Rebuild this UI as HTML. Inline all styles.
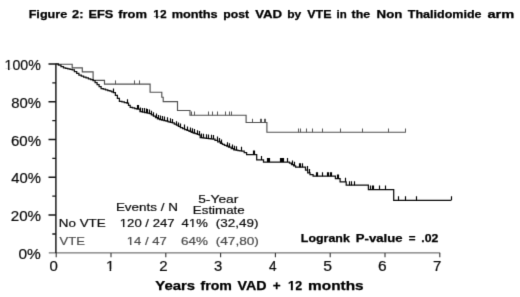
<!DOCTYPE html>
<html><head><meta charset="utf-8"><title>Figure 2</title>
<style>
html,body{margin:0;padding:0;background:#fff;}
body{width:520px;height:297px;overflow:hidden;}
svg{display:block;font-family:"Liberation Sans",Arial,sans-serif;}
</style></head><body>
<svg width="520" height="297" viewBox="0 0 520 297">
<defs><clipPath id="c4"><path clip-rule="evenodd" d="M0,0H520V297H0ZM153.10,16.91H155.97V19.95H153.10ZM157.90,16.91H160.62V19.95H157.90Z"/></clipPath><clipPath id="c15"><path clip-rule="evenodd" d="M0,0H520V297H0ZM4.69,68.52H8.02V71.50H4.69ZM9.56,68.52H12.78V71.50H9.56Z"/></clipPath><clipPath id="c22"><path clip-rule="evenodd" d="M0,0H520V297H0ZM106.10,269.02H109.60V272.00H106.10ZM111.23,269.02H114.61V272.00H111.23Z"/></clipPath><clipPath id="c33"><path clip-rule="evenodd" d="M0,0H520V297H0ZM287.77,287.76H290.81V291.00H287.77ZM292.88,287.76H295.76V291.00H292.88Z"/></clipPath><clipPath id="c40"><path clip-rule="evenodd" d="M0,0H520V297H0ZM119.81,225.68H122.96V228.50H119.81ZM124.42,225.68H127.47V228.50H124.42Z"/></clipPath><clipPath id="c41"><path clip-rule="evenodd" d="M0,0H520V297H0ZM188.90,225.68H192.03V228.50H188.90ZM193.49,225.68H196.52V228.50H193.49Z"/></clipPath><clipPath id="c44"><path clip-rule="evenodd" d="M0,0H520V297H0ZM126.84,244.08H129.98V246.90H126.84ZM131.44,244.08H134.48V246.90H131.44Z"/></clipPath><filter id="soft" x="0" y="0" width="100%" height="100%" color-interpolation-filters="sRGB"><feConvolveMatrix order="3" kernelMatrix="0 1 0 1 6 1 0 1 0" divisor="10" edgeMode="duplicate" preserveAlpha="true"/></filter></defs>
<g filter="url(#soft)">
<rect width="520" height="297" fill="#fff"/>
<path d="M48.8,252.9H440.2" stroke="#555" stroke-width="1" fill="none"/>
<path d="M56.2,252.9v4.4M111.0,252.9v4.4M165.8,252.9v4.4M220.6,252.9v4.4M275.4,252.9v4.4M330.2,252.9v4.4M385.0,252.9v4.4M439.8,252.9v4.4" stroke="#333" stroke-width="1.1" fill="none"/>
<path d="M55.9,63.4V252.9" stroke="#151515" stroke-width="1.45" fill="none"/>
<path d="M48.5,63.9H55.9M48.5,101.7H55.9M48.5,139.5H55.9M48.5,177.3H55.9M48.5,215.1H55.9" stroke="#151515" stroke-width="1.5" fill="none"/>
<path d="M52.3,82.8H55.9M52.3,120.6H55.9M52.3,158.4H55.9M52.3,196.2H55.9M52.3,234.0H55.9" stroke="#151515" stroke-width="1.3" fill="none"/>
<path d="M55.9,64.2 L72.2,64.2 L72.2,67.8 L82.3,67.8 L82.3,71.8 L93.1,71.8 L93.1,80.3 L104.5,80.3 L104.5,84.1 L150.1,84.1 L150.1,92.2 L161.8,92.2 L161.8,97.2 L163.2,97.2 L163.2,101.6 L177.5,101.6 L177.5,110.5 L190.0,110.5 L190.0,115.2 L246.1,115.2 L246.1,122.5 L266.9,122.5 L266.9,132.2 L405.8,132.2 L405.8,132.2" stroke="#505050" stroke-width="1.15" fill="none" stroke-linejoin="miter"/>
<path d="M115.5,84.1v-3.7M134.5,84.1v-3.7M139.5,84.1v-3.7M191.5,115.2v-3.7M194.5,115.2v-3.7M208.5,115.2v-3.7M212.5,115.2v-3.7M217.5,115.2v-3.7M225.5,115.2v-3.7M229.5,115.2v-3.7M231.5,115.2v-3.7M252.5,122.5v-3.7M260.5,122.5v-3.7M261.5,122.5v-3.7M264.5,122.5v-3.7M265.5,122.5v-3.7M298.5,132.2v-3.7M300.5,132.2v-3.7M306.5,132.2v-3.7M312.5,132.2v-3.7M322.5,132.2v-3.7M340.5,132.2v-3.7M362.5,132.2v-3.7M388.5,132.2v-3.7M405.5,132.2v-3.7" stroke="#505050" stroke-width="0.95" fill="none"/>
<path d="M55.9,63.9 L58.4,63.9 L58.4,65.2 L61.0,65.2 L61.0,66.5 L63.5,66.5 L63.5,67.8 L65.7,67.8 L65.7,68.3 L67.8,68.3 L67.8,68.8 L70.0,68.8 L70.0,69.3 L72.2,69.3 L72.2,69.8 L74.4,69.8 L74.4,71.6 L76.7,71.6 L76.7,73.4 L78.9,73.4 L78.9,75.2 L81.3,75.2 L81.3,76.1 L83.6,76.1 L83.6,77.0 L86.0,77.0 L86.0,77.9 L88.4,77.9 L88.4,78.8 L90.7,78.8 L90.7,79.7 L93.1,79.7 L93.1,80.6 L95.1,80.6 L95.1,82.6 L97.1,82.6 L97.1,84.6 L99.1,84.6 L99.1,86.6 L101.1,86.6 L101.1,88.6 L103.3,88.6 L103.3,89.2 L105.5,89.2 L105.5,89.9 L107.8,89.9 L107.8,90.5 L110.0,90.5 L110.0,91.2 L111.7,91.2 L111.7,91.8 L113.4,91.8 L113.4,92.5 L115.4,92.5 L115.4,95.4 L117.4,95.4 L117.4,98.4 L119.4,98.4 L119.4,101.3 L121.9,101.3 L121.9,101.9 L124.3,101.9 L124.3,102.6 L126.8,102.6 L126.8,103.2 L128.5,103.2 L128.5,105.3 L130.2,105.3 L130.2,107.4 L132.4,107.4 L132.4,107.9 L134.7,107.9 L134.7,108.5 L136.9,108.5 L136.9,109.0 L140.0,109.0 L140.0,111.5 L142.3,111.5 L142.3,112.0 L144.7,112.0 L144.7,112.5 L147.1,112.5 L147.1,113.0 L149.4,113.0 L149.4,113.5 L151.4,113.5 L151.4,114.8 L153.4,114.8 L153.4,116.2 L155.5,116.2 L155.5,117.6 L157.5,117.6 L157.5,118.9 L159.6,118.9 L159.6,119.5 L161.7,119.5 L161.7,120.0 L163.8,120.0 L163.8,120.6 L166.0,120.6 L166.0,121.2 L168.1,121.2 L168.1,121.8 L170.2,121.8 L170.2,122.3 L172.3,122.3 L172.3,122.9 L174.3,122.9 L174.3,124.1 L176.4,124.1 L176.4,125.2 L178.4,125.2 L178.4,126.4 L180.4,126.4 L180.4,127.6 L182.6,127.6 L182.6,128.5 L184.7,128.5 L184.7,129.5 L186.9,129.5 L186.9,130.4 L189.0,130.4 L189.0,131.4 L191.2,131.4 L191.2,132.3 L193.2,132.3 L193.2,133.0 L195.2,133.0 L195.2,133.7 L197.2,133.7 L197.2,134.3 L199.2,134.3 L199.2,135.0 L200.2,135.0 L200.2,137.6 L202.2,137.6 L202.2,137.8 L204.2,137.8 L204.2,138.1 L206.2,138.1 L206.2,138.3 L208.3,138.3 L208.3,138.5 L210.3,138.5 L210.3,138.8 L212.3,138.8 L212.3,139.0 L215.0,139.0 L215.0,140.4 L217.7,140.4 L217.7,141.9 L220.4,141.9 L220.4,143.4 L222.4,143.4 L222.4,144.3 L224.4,144.3 L224.4,145.3 L226.5,145.3 L226.5,146.2 L228.5,146.2 L228.5,147.2 L231.2,147.2 L231.2,148.5 L233.8,148.5 L233.8,149.8 L235.8,149.8 L235.8,150.2 L237.9,150.2 L237.9,150.5 L239.9,150.5 L239.9,150.8 L241.9,150.8 L241.9,151.2 L244.2,151.2 L244.2,152.6 L246.6,152.6 L246.6,154.5 L254.7,154.5 L254.7,154.5 L256.7,154.5 L256.7,159.9 L262.1,159.9 L262.1,159.9 L263.5,159.9 L263.5,162.0 L287.5,162.0 L287.5,162.0 L289.5,162.0 L289.5,163.2 L291.5,163.2 L291.5,164.5 L293.6,164.5 L293.6,165.8 L295.6,165.8 L295.6,167.2 L303.6,167.2 L303.6,167.2 L305.5,167.2 L305.5,170.0 L307.7,170.0 L307.7,172.9 L310.0,172.9 L310.0,174.5 L313.1,174.5 L313.1,176.2 L335.4,176.2 L335.4,176.2 L335.4,176.2 L335.4,178.5 L340.1,178.5 L340.1,178.5 L340.1,178.5 L340.1,181.8 L346.2,181.8 L346.2,181.8 L346.2,181.8 L346.2,185.2 L368.4,185.2 L368.4,185.2 L368.4,185.2 L368.4,189.6 L393.7,189.6 L393.7,189.6 L393.7,189.6 L393.7,200.3 L451.2,200.3 L451.2,200.3" stroke="#0c0c0c" stroke-width="1.25" fill="none" stroke-linejoin="miter"/>
<path d="M113.5,92.5v-4.0M127.5,103.2v-4.0M137.5,109.0v-4.0M138.5,109.0v-4.0M140.5,111.5v-4.0M142.5,112.0v-4.0M144.5,112.0v-4.0M146.5,112.5v-4.0M147.5,113.0v-4.0M149.5,113.5v-4.0M151.5,114.8v-4.0M153.5,116.2v-4.0M156.5,117.6v-4.0M158.5,118.9v-4.0M160.5,119.5v-4.0M162.5,120.0v-4.0M164.5,120.6v-4.0M167.5,121.2v-4.0M170.5,122.3v-4.0M172.5,122.9v-4.0M176.5,125.2v-4.0M178.5,126.4v-4.0M180.5,127.6v-4.0M184.5,128.5v-4.0M187.5,130.4v-4.0M190.5,131.4v-4.0M192.5,132.3v-4.0M194.5,133.0v-4.0M197.5,134.3v-4.0M199.5,135.0v-4.0M201.5,137.6v-4.0M203.5,137.8v-4.0M206.5,138.3v-4.0M208.5,138.5v-4.0M211.5,138.8v-4.0M213.5,139.0v-4.0M217.5,140.4v-4.0M219.5,141.9v-4.0M221.5,143.4v-4.0M227.5,146.2v-4.0M229.5,147.2v-4.0M232.5,148.5v-4.0M234.5,149.8v-4.0M236.5,150.2v-4.0M241.5,150.8v-4.0M253.5,154.5v-4.0M254.5,154.5v-4.0M261.5,159.9v-4.0M267.5,162.0v-4.0M268.5,162.0v-4.0M269.5,162.0v-4.0M280.5,162.0v-4.0M281.5,162.0v-4.0M282.5,162.0v-4.0M283.5,162.0v-4.0M287.5,162.0v-4.0M292.5,164.5v-4.0M294.5,165.8v-4.0M299.5,167.2v-4.0M300.5,167.2v-4.0M302.5,167.2v-4.0M307.5,170.0v-4.0M309.5,172.9v-4.0M316.5,176.2v-4.0M317.5,176.2v-4.0M322.5,176.2v-4.0M327.5,176.2v-4.0M328.5,176.2v-4.0M330.5,176.2v-4.0M331.5,176.2v-4.0M337.5,178.5v-4.0M338.5,178.5v-4.0M345.5,181.8v-4.0M349.5,185.2v-4.0M351.5,185.2v-4.0M354.5,185.2v-4.0M370.5,189.6v-4.0M372.5,189.6v-4.0M373.5,189.6v-4.0M379.5,189.6v-4.0M385.5,189.6v-4.0M398.5,200.3v-4.0M405.5,200.3v-4.0M416.5,200.3v-4.0M451.5,200.3v-4.0" stroke="#000" stroke-width="1.15" fill="none"/>
<text x="28.67" y="18.45" textLength="38.61" lengthAdjust="spacingAndGlyphs" font-size="10.7" font-weight="bold" fill="#000" stroke="#000" stroke-width="0.25">Figure</text>
<text x="72.08" y="18.45" textLength="11.36" lengthAdjust="spacingAndGlyphs" font-size="10.7" font-weight="bold" fill="#000" stroke="#000" stroke-width="0.25">2:</text>
<text x="88.46" y="18.45" textLength="24.76" lengthAdjust="spacingAndGlyphs" font-size="10.7" font-weight="bold" fill="#000" stroke="#000" stroke-width="0.25">EFS</text>
<text x="118.20" y="18.45" textLength="28.72" lengthAdjust="spacingAndGlyphs" font-size="10.7" font-weight="bold" fill="#000" stroke="#000" stroke-width="0.25">from</text>
<text clip-path="url(#c4)" x="153.35" y="18.45" textLength="13.21" lengthAdjust="spacingAndGlyphs" font-size="10.7" font-weight="bold" fill="#000" stroke="#000" stroke-width="0.25">12</text>
<text x="171.69" y="18.45" textLength="45.92" lengthAdjust="spacingAndGlyphs" font-size="10.7" font-weight="bold" fill="#000" stroke="#000" stroke-width="0.25">months</text>
<text x="223.30" y="18.45" textLength="25.78" lengthAdjust="spacingAndGlyphs" font-size="10.7" font-weight="bold" fill="#000" stroke="#000" stroke-width="0.25">post</text>
<text x="255.20" y="18.45" textLength="26.99" lengthAdjust="spacingAndGlyphs" font-size="10.7" font-weight="bold" fill="#000" stroke="#000" stroke-width="0.25">VAD</text>
<text x="287.27" y="18.45" textLength="14.03" lengthAdjust="spacingAndGlyphs" font-size="10.7" font-weight="bold" fill="#000" stroke="#000" stroke-width="0.25">by</text>
<text x="307.19" y="18.45" textLength="24.28" lengthAdjust="spacingAndGlyphs" font-size="10.7" font-weight="bold" fill="#000" stroke="#000" stroke-width="0.25">VTE</text>
<text x="336.60" y="18.45" textLength="10.19" lengthAdjust="spacingAndGlyphs" font-size="10.7" font-weight="bold" fill="#000" stroke="#000" stroke-width="0.25">in</text>
<text x="351.53" y="18.45" textLength="18.55" lengthAdjust="spacingAndGlyphs" font-size="10.7" font-weight="bold" fill="#000" stroke="#000" stroke-width="0.25">the</text>
<text x="376.57" y="18.45" textLength="25.79" lengthAdjust="spacingAndGlyphs" font-size="10.7" font-weight="bold" fill="#000" stroke="#000" stroke-width="0.25">Non</text>
<text x="407.80" y="18.45" textLength="73.80" lengthAdjust="spacingAndGlyphs" font-size="10.7" font-weight="bold" fill="#000" stroke="#000" stroke-width="0.25">Thalidomide</text>
<text x="487.42" y="18.45" textLength="26.82" lengthAdjust="spacingAndGlyphs" font-size="10.7" font-weight="bold" fill="#000" stroke="#000" stroke-width="0.25">arm</text>
<text clip-path="url(#c15)" x="4.61" y="70.0" textLength="36.15" lengthAdjust="spacingAndGlyphs" font-size="13.8" font-weight="normal" fill="#0c0c0c" stroke="#0c0c0c" stroke-width="0.2">100%</text>
<text x="11.19" y="107.8" textLength="29.72" lengthAdjust="spacingAndGlyphs" font-size="13.8" font-weight="normal" fill="#0c0c0c" stroke="#0c0c0c" stroke-width="0.2">80%</text>
<text x="10.93" y="145.6" textLength="30.08" lengthAdjust="spacingAndGlyphs" font-size="13.8" font-weight="normal" fill="#0c0c0c" stroke="#0c0c0c" stroke-width="0.2">60%</text>
<text x="11.32" y="183.4" textLength="29.65" lengthAdjust="spacingAndGlyphs" font-size="13.8" font-weight="normal" fill="#0c0c0c" stroke="#0c0c0c" stroke-width="0.2">40%</text>
<text x="10.79" y="221.2" textLength="30.30" lengthAdjust="spacingAndGlyphs" font-size="13.8" font-weight="normal" fill="#0c0c0c" stroke="#0c0c0c" stroke-width="0.2">20%</text>
<text x="18.53" y="259.0" textLength="22.35" lengthAdjust="spacingAndGlyphs" font-size="13.8" font-weight="normal" fill="#0c0c0c" stroke="#0c0c0c" stroke-width="0.2">0%</text>
<text x="49.61" y="270.5" textLength="8.35" lengthAdjust="spacingAndGlyphs" font-size="13.8" font-weight="normal" fill="#0c0c0c" stroke="#0c0c0c" stroke-width="0.2">0</text>
<text clip-path="url(#c22)" x="105.95" y="270.5" textLength="8.40" lengthAdjust="spacingAndGlyphs" font-size="13.8" font-weight="normal" fill="#0c0c0c" stroke="#0c0c0c" stroke-width="0.2">1</text>
<text x="159.17" y="270.5" textLength="8.37" lengthAdjust="spacingAndGlyphs" font-size="13.8" font-weight="normal" fill="#0c0c0c" stroke="#0c0c0c" stroke-width="0.2">2</text>
<text x="213.94" y="270.5" textLength="8.25" lengthAdjust="spacingAndGlyphs" font-size="13.8" font-weight="normal" fill="#0c0c0c" stroke="#0c0c0c" stroke-width="0.2">3</text>
<text x="269.03" y="270.5" textLength="7.60" lengthAdjust="spacingAndGlyphs" font-size="13.8" font-weight="normal" fill="#0c0c0c" stroke="#0c0c0c" stroke-width="0.2">4</text>
<text x="323.28" y="270.5" textLength="8.77" lengthAdjust="spacingAndGlyphs" font-size="13.8" font-weight="normal" fill="#0c0c0c" stroke="#0c0c0c" stroke-width="0.2">5</text>
<text x="378.14" y="270.5" textLength="8.64" lengthAdjust="spacingAndGlyphs" font-size="13.8" font-weight="normal" fill="#0c0c0c" stroke="#0c0c0c" stroke-width="0.2">6</text>
<text x="433.10" y="270.5" textLength="8.41" lengthAdjust="spacingAndGlyphs" font-size="13.8" font-weight="normal" fill="#0c0c0c" stroke="#0c0c0c" stroke-width="0.2">7</text>
<text x="155.32" y="289.5" textLength="39.77" lengthAdjust="spacingAndGlyphs" font-size="12.6" font-weight="bold" fill="#000" stroke="#000" stroke-width="0.25">Years</text>
<text x="200.52" y="289.5" textLength="31.44" lengthAdjust="spacingAndGlyphs" font-size="12.6" font-weight="bold" fill="#000" stroke="#000" stroke-width="0.25">from</text>
<text x="237.53" y="289.5" textLength="29.00" lengthAdjust="spacingAndGlyphs" font-size="12.6" font-weight="bold" fill="#000" stroke="#000" stroke-width="0.25">VAD</text>
<text x="272.87" y="289.5" textLength="7.89" lengthAdjust="spacingAndGlyphs" font-size="12.6" font-weight="bold" fill="#000" stroke="#000" stroke-width="0.25">+</text>
<text clip-path="url(#c33)" x="287.95" y="289.5" textLength="14.32" lengthAdjust="spacingAndGlyphs" font-size="12.6" font-weight="bold" fill="#000" stroke="#000" stroke-width="0.25">12</text>
<text x="308.14" y="289.5" textLength="55.50" lengthAdjust="spacingAndGlyphs" font-size="12.6" font-weight="bold" fill="#000" stroke="#000" stroke-width="0.25">months</text>
<text x="300.87" y="242.3" textLength="48.97" lengthAdjust="spacingAndGlyphs" font-size="10.6" font-weight="bold" fill="#000" stroke="#000" stroke-width="0.25">Logrank</text>
<text x="355.84" y="242.3" textLength="46.71" lengthAdjust="spacingAndGlyphs" font-size="10.6" font-weight="bold" fill="#000" stroke="#000" stroke-width="0.25">P-value</text>
<text x="408.78" y="242.3" textLength="6.78" lengthAdjust="spacingAndGlyphs" font-size="10.6" font-weight="bold" fill="#000" stroke="#000" stroke-width="0.25">=</text>
<text x="421.39" y="242.3" textLength="17.02" lengthAdjust="spacingAndGlyphs" font-size="10.6" font-weight="bold" fill="#000" stroke="#000" stroke-width="0.25">.02</text>
<text x="58.81" y="227.0" textLength="46.93" lengthAdjust="spacingAndGlyphs" font-size="11.6" font-weight="normal" fill="#0c0c0c" stroke="#0c0c0c" stroke-width="0.2">No VTE</text>
<text clip-path="url(#c40)" x="119.81" y="227.0" textLength="54.77" lengthAdjust="spacingAndGlyphs" font-size="11.6" font-weight="normal" fill="#0c0c0c" stroke="#0c0c0c" stroke-width="0.2">120 / 247</text>
<text clip-path="url(#c41)" x="181.64" y="227.0" textLength="26.13" lengthAdjust="spacingAndGlyphs" font-size="11.6" font-weight="normal" fill="#0c0c0c" stroke="#0c0c0c" stroke-width="0.2">41%</text>
<text x="215.86" y="227.0" textLength="42.66" lengthAdjust="spacingAndGlyphs" font-size="11.6" font-weight="normal" fill="#0c0c0c" stroke="#0c0c0c" stroke-width="0.2">(32,49)</text>
<text x="59.63" y="245.4" textLength="25.28" lengthAdjust="spacingAndGlyphs" font-size="11.6" font-weight="normal" fill="#4a4a4a" stroke="#4a4a4a" stroke-width="0.2">VTE</text>
<text clip-path="url(#c44)" x="126.84" y="245.4" textLength="40.02" lengthAdjust="spacingAndGlyphs" font-size="11.6" font-weight="normal" fill="#4a4a4a" stroke="#4a4a4a" stroke-width="0.2">14 / 47</text>
<text x="181.10" y="245.4" textLength="26.91" lengthAdjust="spacingAndGlyphs" font-size="11.6" font-weight="normal" fill="#4a4a4a" stroke="#4a4a4a" stroke-width="0.2">64%</text>
<text x="215.73" y="245.4" textLength="43.16" lengthAdjust="spacingAndGlyphs" font-size="11.6" font-weight="normal" fill="#4a4a4a" stroke="#4a4a4a" stroke-width="0.2">(47,80)</text>
<text x="115.91" y="210.7" textLength="62.02" lengthAdjust="spacingAndGlyphs" font-size="11.6" font-weight="normal" fill="#0c0c0c" stroke="#0c0c0c" stroke-width="0.2">Events / N</text>
<text x="198.20" y="202.7" textLength="40.13" lengthAdjust="spacingAndGlyphs" font-size="11.6" font-weight="normal" fill="#0c0c0c" stroke="#0c0c0c" stroke-width="0.2">5-Year</text>
<text x="192.82" y="214.3" textLength="51.90" lengthAdjust="spacingAndGlyphs" font-size="11.6" font-weight="normal" fill="#0c0c0c" stroke="#0c0c0c" stroke-width="0.2">Estimate</text>
</g>
</svg>
</body></html>
